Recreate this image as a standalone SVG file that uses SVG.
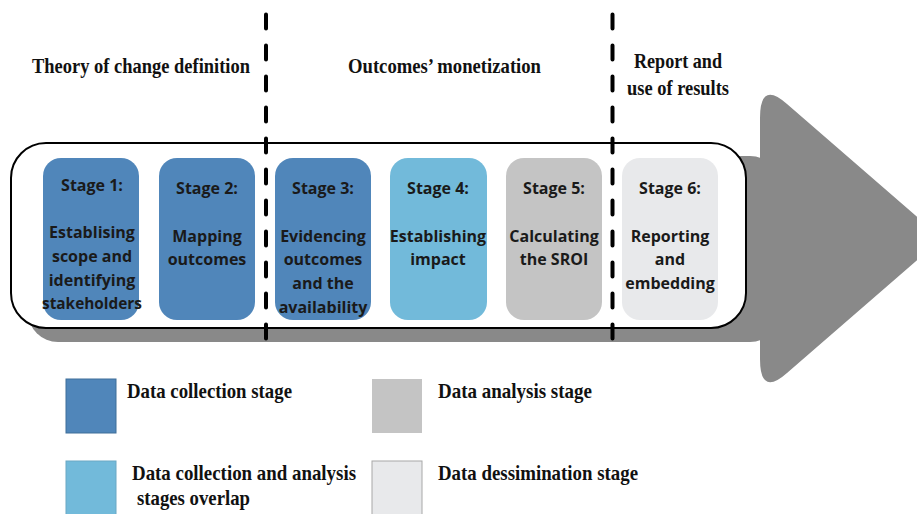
<svg xmlns="http://www.w3.org/2000/svg" width="917" height="514" viewBox="0 0 917 514">
<style>
.hd{font-family:"Liberation Serif","Times New Roman",serif;font-weight:bold;font-size:21px;fill:#111}
.st{font-family:"Open Sans","Noto Sans",sans-serif;font-weight:700;font-size:16px;fill:#1a1a1a;text-anchor:middle}
.lg{font-family:"Liberation Serif","Times New Roman",serif;font-weight:bold;font-size:21px;fill:#111}
.dash{stroke:#000;stroke-width:4;stroke-linecap:round;stroke-dasharray:14 17;fill:none}
.c1{fill:#5086BA}.c2{fill:#72BADA}.c3{fill:#C4C4C4}.c4{fill:#E8E9EB}
</style>
<g id="arrow">
<rect x="28" y="156" width="752" height="186" rx="30" fill="#898989"/>
<path d="M760,118 Q760,80 787,104 L942,238.5 L787,373 Q760,397 760,359 Z" fill="#898989"/>
</g>
<g id="band">
<rect x="11" y="143" width="735" height="185" rx="35" fill="#fff" stroke="#000" stroke-width="2"/>
</g>
<g id="stage1"><rect class="c1" x="43" y="158" width="96" height="162" rx="18"/>
<text class="st" x="92" y="190.5">Stage 1:</text>
<text class="st" x="92" y="237.5">Establising</text>
<text class="st" x="92" y="261.5">scope and</text>
<text class="st" x="92" y="285.5">identifying</text>
<text class="st" x="92" y="308.5" textLength="100" lengthAdjust="spacingAndGlyphs">stakeholders</text></g>
<g id="stage2"><rect class="c1" x="159" y="158" width="96" height="162" rx="18"/>
<text class="st" x="207" y="193.5">Stage 2:</text>
<text class="st" x="207" y="241.5">Mapping</text>
<text class="st" x="207" y="264.5">outcomes</text></g>
<g id="stage3"><rect class="c1" x="275" y="158" width="96" height="162" rx="18"/>
<text class="st" x="323" y="193.5">Stage 3:</text>
<text class="st" x="323" y="241.5">Evidencing</text>
<text class="st" x="323" y="264.5">outcomes</text>
<text class="st" x="323" y="288.5">and the</text>
<text class="st" x="323" y="312.5">availability</text></g>
<g id="stage4"><rect class="c2" x="390" y="158" width="97" height="162" rx="18"/>
<text class="st" x="438" y="193.5">Stage 4:</text>
<text class="st" x="438" y="241.5">Establishing</text>
<text class="st" x="438" y="264.5">impact</text></g>
<g id="stage5"><rect class="c3" x="506" y="158" width="96" height="162" rx="18"/>
<text class="st" x="554" y="193.5">Stage 5:</text>
<text class="st" x="554" y="241.5">Calculating</text>
<text class="st" x="554" y="264.5">the SROI</text></g>
<g id="stage6"><rect class="c4" x="622" y="158" width="96" height="162" rx="18"/>
<text class="st" x="670" y="193.5">Stage 6:</text>
<text class="st" x="670" y="241.5">Reporting</text>
<text class="st" x="670" y="264.5">and</text>
<text class="st" x="670" y="288.5">embedding</text></g>
<g id="dividers">
<line class="dash" x1="266" y1="14.5" x2="266" y2="340"/>
<line class="dash" x1="612.5" y1="14.5" x2="612.5" y2="340"/>
</g>
<g id="headings">
<text class="hd" x="32" y="73" textLength="218" lengthAdjust="spacingAndGlyphs">Theory of change definition</text>
<text class="hd" x="348" y="73" textLength="193" lengthAdjust="spacingAndGlyphs">Outcomes’ monetization</text>
<text class="hd" x="634" y="68" textLength="88" lengthAdjust="spacingAndGlyphs">Report and</text>
<text class="hd" x="627" y="95" textLength="102" lengthAdjust="spacingAndGlyphs">use of results</text>
</g>
<g id="legend">
<rect x="66" y="379" width="50" height="54" fill="#5086BA" stroke="#3F6E99" stroke-width="1"/>
<rect x="372" y="379" width="50" height="54" fill="#C4C4C4"/>
<rect x="66" y="461" width="50" height="56" fill="#72BADA" stroke="#6AA8C4" stroke-width="1"/>
<rect x="372" y="461" width="50" height="56" fill="#E8E9EB" stroke="#A8A8A8" stroke-width="1"/>
<text class="lg" x="127" y="398" textLength="165" lengthAdjust="spacingAndGlyphs">Data collection stage</text>
<text class="lg" x="438" y="398" textLength="154" lengthAdjust="spacingAndGlyphs">Data analysis stage</text>
<text class="lg" x="132" y="480" textLength="224" lengthAdjust="spacingAndGlyphs">Data collection and analysis</text>
<text class="lg" x="137" y="505" textLength="113" lengthAdjust="spacingAndGlyphs">stages overlap</text>
<text class="lg" x="438" y="480" textLength="200" lengthAdjust="spacingAndGlyphs">Data dessimination stage</text>
</g>
</svg>
